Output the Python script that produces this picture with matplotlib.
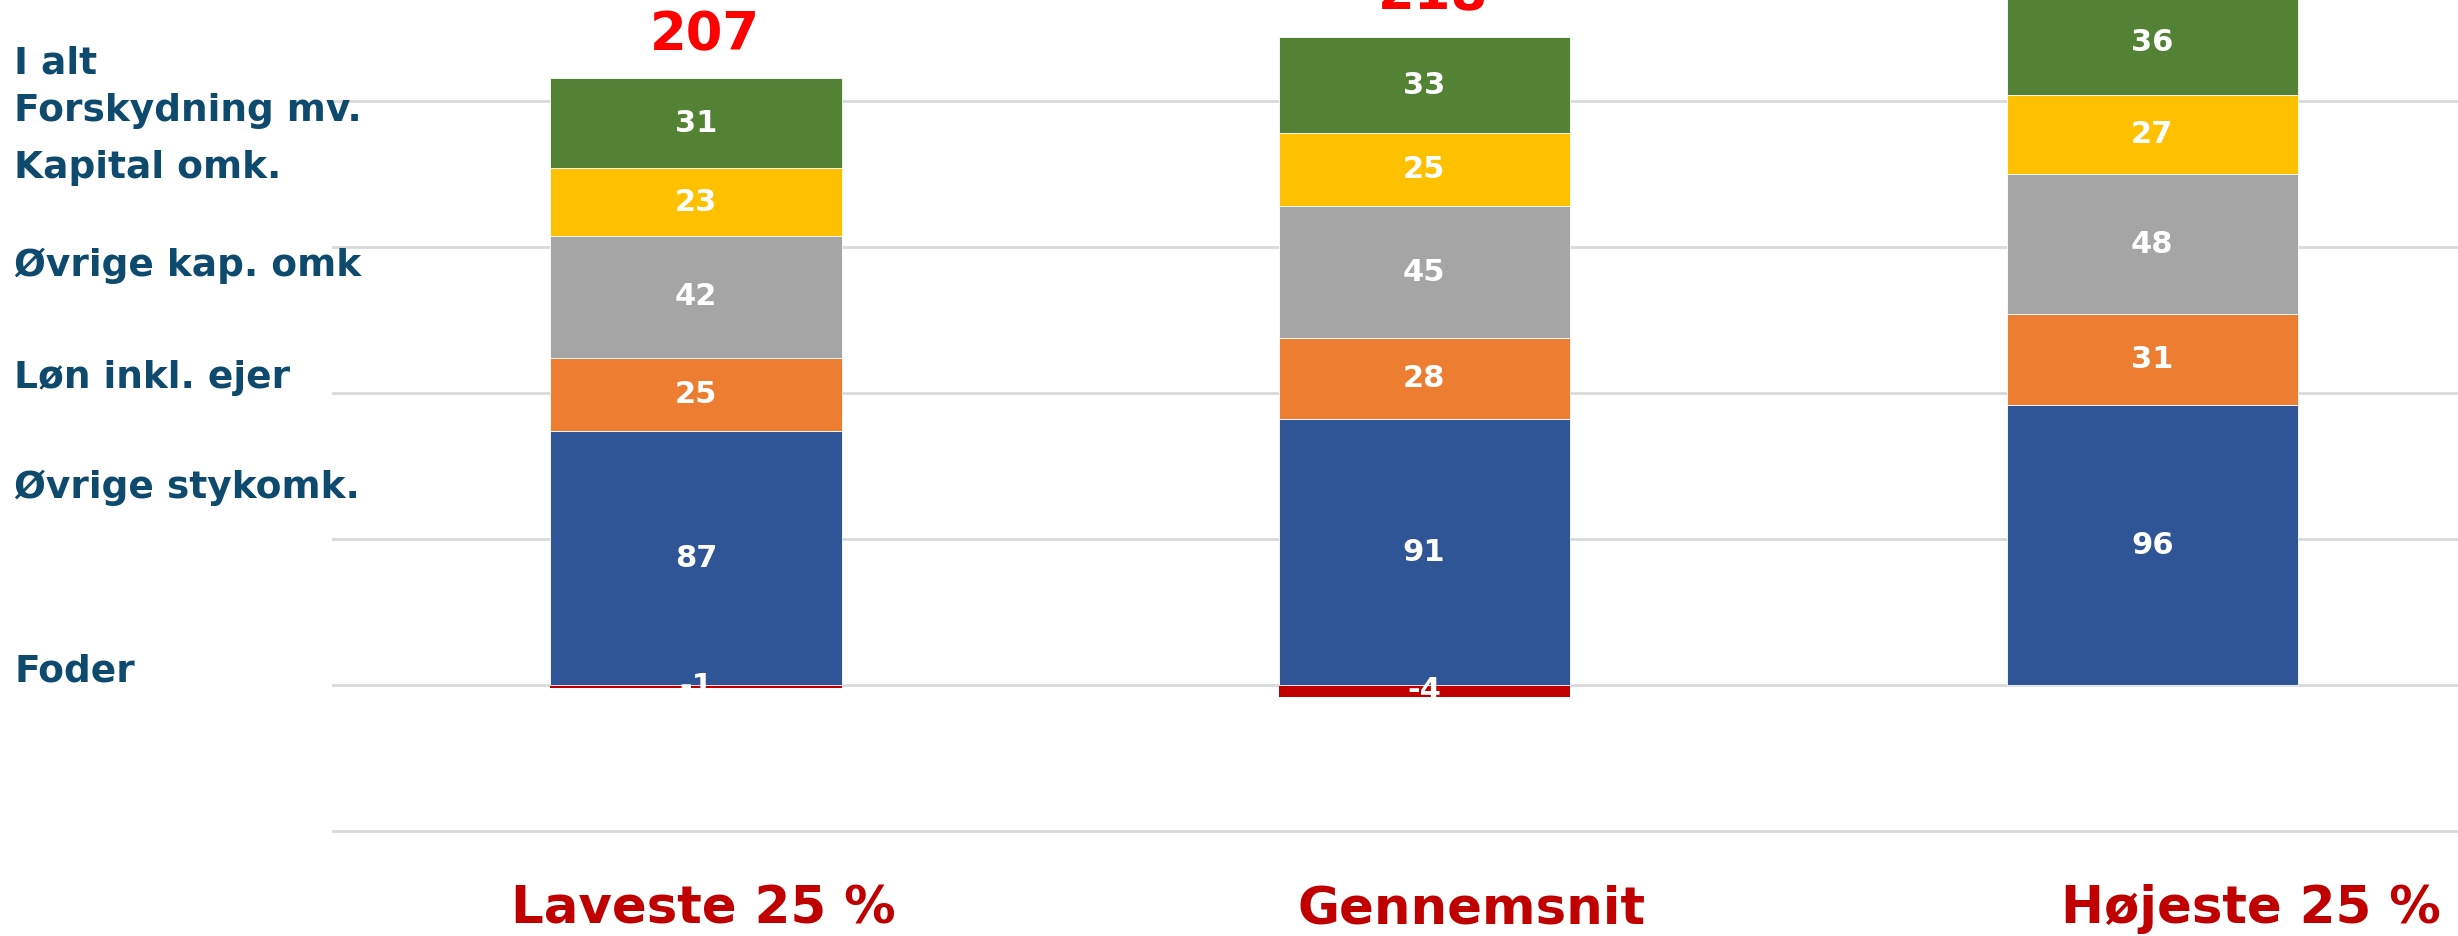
import matplotlib.pyplot as plt
import numpy as np

categories = ["Laveste 25 %", "Gennemsnit", "Højeste 25 %"]

# stack order from bottom to top
forskydning = [-1, -4, 0]
foder = [87, 91, 96]
oevrige_styk = [25, 28, 31]
loen = [42, 45, 48]
oevrige_kap = [23, 25, 27]
kapital = [31, 33, 36]

series = [foder, oevrige_styk, loen, oevrige_kap, kapital]
colors = ["#2F5597", "#ED7D31", "#A5A5A5", "#FFC000", "#548235"]
neg_color = "#C00000"

legend_labels = ["I alt", "Forskydning mv.", "Kapital omk.", "Øvrige kap. omk",
                 "Løn inkl. ejer", "Øvrige stykomk.", "Foder"]
legend_y_px = [64, 111, 168, 266, 378, 488, 671]
label_shift = [0.01, 0.065, 0.135]

W, H = 2458, 936
fig = plt.figure(figsize=(W / 100, H / 100), dpi=100)
ax = fig.add_axes([332 / W, 102 / H, 1 - 332 / W, 1 - 102 / H])

x = np.arange(len(categories))
width = 0.40

ax.set_axisbelow(True)
for v in range(-50, 201, 50):
    ax.axhline(v, color="#D9D9D9", lw=2, zorder=0)

# negative part
ax.bar(x, forskydning, width, color=neg_color, edgecolor="none", zorder=2)
for i, v in enumerate(forskydning):
    if v != 0:
        ax.text(x[i], v / 2, f"{v}", ha="center", va="center", color="white",
                fontsize=22, fontweight="bold", zorder=4)

bottom = np.zeros(len(categories))
for vals, c in zip(series, colors):
    vals = np.array(vals, dtype=float)
    ax.bar(x, vals, width, bottom=bottom, color=c, edgecolor="white", lw=0.6, zorder=2)
    for i, v in enumerate(vals):
        ax.text(x[i], bottom[i] + v / 2, f"{v:.0f}", ha="center", va="center",
                color="white", fontsize=22, fontweight="bold", zorder=4)
    bottom += vals

totals = bottom + np.array(forskydning)
for i, t in enumerate(totals):
    ax.annotate(f"{t:.0f}", (x[i], bottom[i]), xytext=(6.5, 31), textcoords="offset points",
                ha="center", va="center", color="#FF0000", fontsize=38,
                fontweight="bold", annotation_clip=False)

ax.set_xlim(-0.5, 2.42)
ax.set_ylim(-51, 234.7)
for s in ax.spines.values():
    s.set_visible(False)
ax.set_xticks([])
ax.set_yticks([])

for i, cat in enumerate(categories):
    ax.text(x[i] + label_shift[i], -50 - 78 / 2.919, cat, ha="center",
            va="center", color="#C00000", fontsize=37, fontweight="bold")

for lab, ypx in zip(legend_labels, legend_y_px):
    fig.text(14 / W, 1 - ypx / H, lab, ha="left", va="center", color="#0E4A6E",
             fontsize=27, fontweight="bold")

fig.savefig("out.png", dpi=100)
